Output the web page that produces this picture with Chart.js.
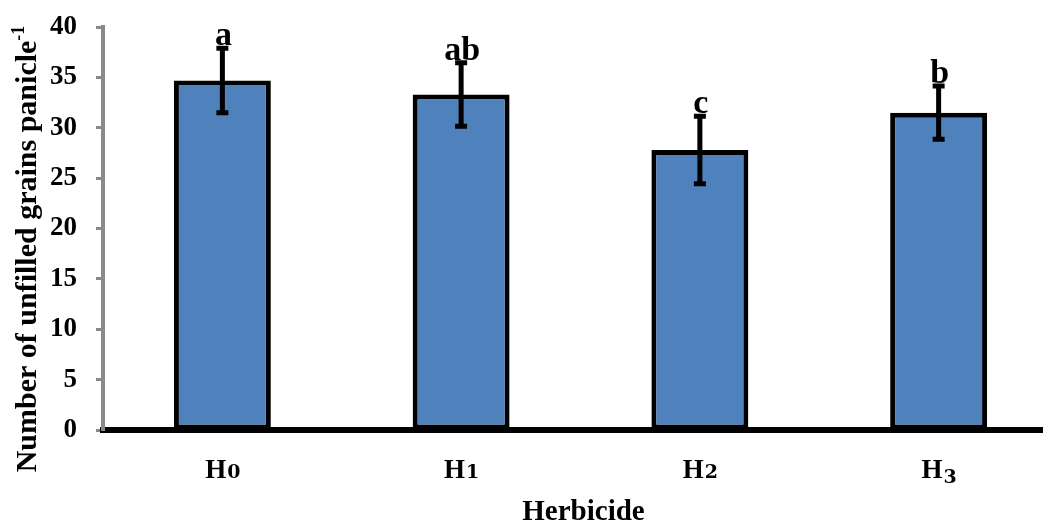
<!DOCTYPE html>
<html>
<head>
<meta charset="utf-8">
<script src="https://cdn.jsdelivr.net/npm/chart.js@4/dist/chart.umd.min.js"></script>
<style>
  html, body { margin: 0; padding: 0; background: #fff; overflow: hidden; }
  #wrap { position: absolute; left: 0; top: 0; width: 1060px; height: 524px; }
</style>
</head>
<body>
<div id="wrap"><canvas id="c" width="1060" height="524"></canvas></div>
<script>
// Unfilled grains per panicle under each herbicide treatment
const categories = ['H0', 'H1', 'H2', 'H3'];
const meanValues = [34.7, 33.3, 27.8, 31.5];
const errorValues = [3.2, 3.15, 3.35, 2.65];
const groupLetters = ['a', 'ab', 'c', 'b'];
const yTicks = [0, 5, 10, 15, 20, 25, 30, 35, 40];

const SERIF = '"Liberation Serif", "Times New Roman", serif';

// Error bars and significance letters above each bar
const errorBarPlugin = {
  id: 'errorBars',
  afterDatasetsDraw(chart) {
    const ctx = chart.ctx;
    const y = chart.scales.y;
    const meta = chart.getDatasetMeta(0);
    ctx.save();
    ctx.strokeStyle = '#000';
    ctx.fillStyle = '#000';
    meta.data.forEach((bar, i) => {
      const x = bar.x;
      const top = y.getPixelForValue(meanValues[i] + errorValues[i]);
      const bot = y.getPixelForValue(meanValues[i] - errorValues[i]);
      ctx.lineWidth = 5;
      ctx.beginPath();
      ctx.moveTo(x, top);
      ctx.lineTo(x, bot);
      ctx.moveTo(x - 6, top);
      ctx.lineTo(x + 6, top);
      ctx.moveTo(x - 6, bot);
      ctx.lineTo(x + 6, bot);
      ctx.stroke();
      ctx.font = 'bold 34px ' + SERIF;
      ctx.textAlign = 'center';
      ctx.textBaseline = 'alphabetic';
      ctx.fillText(groupLetters[i], x + 1, top - 3);
    });
    ctx.restore();
  }
};

// Category labels with a low, wide numeral, plus both axis titles
const axisTextPlugin = {
  id: 'axisText',
  afterDraw(chart) {
    const ctx = chart.ctx;
    const xs = chart.scales.x;
    ctx.save();
    ctx.fillStyle = '#000';
    ctx.textBaseline = 'alphabetic';

    // category labels
    const bigFont = 'bold 27px ' + SERIF;
    const smallFont = 'bold 19px "DejaVu Serif", serif';
    categories.forEach((label, i) => {
      const cx = xs.getPixelForValue(i);
      const head = label.slice(0, 1);
      const tail = label.slice(1);
      ctx.font = bigFont;
      const wh = ctx.measureText(head).width;
      ctx.font = smallFont;
      const wt = ctx.measureText(tail).width;
      const x0 = cx - (wh + wt) / 2;
      const base = 478;
      ctx.textAlign = 'left';
      ctx.font = bigFont;
      ctx.fillText(head, x0, base);
      ctx.font = smallFont;
      ctx.fillText(tail, x0 + wh + 1, base + (tail === '3' ? 5 : 0));
    });

    // x-axis title
    ctx.font = 'bold 29px ' + SERIF;
    ctx.textAlign = 'center';
    ctx.fillText('Herbicide', (chart.chartArea.left + chart.chartArea.right) / 2 + 3, 520);

    // y-axis title with superscript
    const main = 'Number of unfilled grains panicle';
    const sup = '-1';
    const mainFont = 'bold 30px ' + SERIF;
    const supFont = 'bold 18px ' + SERIF;
    ctx.font = mainFont;
    const wm = ctx.measureText(main).width;
    ctx.font = supFont;
    const ws = ctx.measureText(sup).width;
    const total = wm + ws;
    ctx.translate(36, 249);
    ctx.rotate(-Math.PI / 2);
    ctx.textAlign = 'left';
    ctx.font = mainFont;
    ctx.fillText(main, -total / 2, 0);
    ctx.font = supFont;
    ctx.fillText(sup, -total / 2 + wm, -12);
    ctx.restore();
  }
};

new Chart(document.getElementById('c'), {
  type: 'bar',
  data: {
    labels: categories,
    datasets: [{
      data: meanValues,
      backgroundColor: '#4F81BD',
      borderColor: '#000',
      borderWidth: 5,
      borderSkipped: false,
      barPercentage: 0.406,
      categoryPercentage: 1.0
    }]
  },
  options: {
    responsive: false,
    animation: false,
    devicePixelRatio: 1,
    layout: { padding: { top: 27, right: 2, left: 0, bottom: 0 } },
    plugins: {
      legend: { display: false },
      tooltip: { enabled: false }
    },
    scales: {
      x: {
        grid: { display: false, drawTicks: false },
        border: { display: true, color: '#000', width: 6 },
        ticks: { display: false },
        afterFit(scale) { scale.height = 524 - 430; }
      },
      y: {
        min: 0,
        max: 40,
        afterBuildTicks(scale) { scale.ticks = yTicks.map(v => ({ value: v })); },
        grid: {
          display: true,
          drawOnChartArea: false,
          drawTicks: true,
          tickLength: 7,
          tickColor: '#898989',
          tickWidth: 3
        },
        border: { display: true, color: '#898989', width: 4 },
        ticks: {
          padding: 19,
          color: '#000',
          font: { family: SERIF, size: 27, weight: 'bold' }
        },
        afterFit(scale) {
          scale.width = 103;
          scale.paddingTop = 0;
          scale.paddingBottom = 0;
        }
      }
    }
  },
  plugins: [errorBarPlugin, axisTextPlugin]
});
</script>
</body>
</html>
